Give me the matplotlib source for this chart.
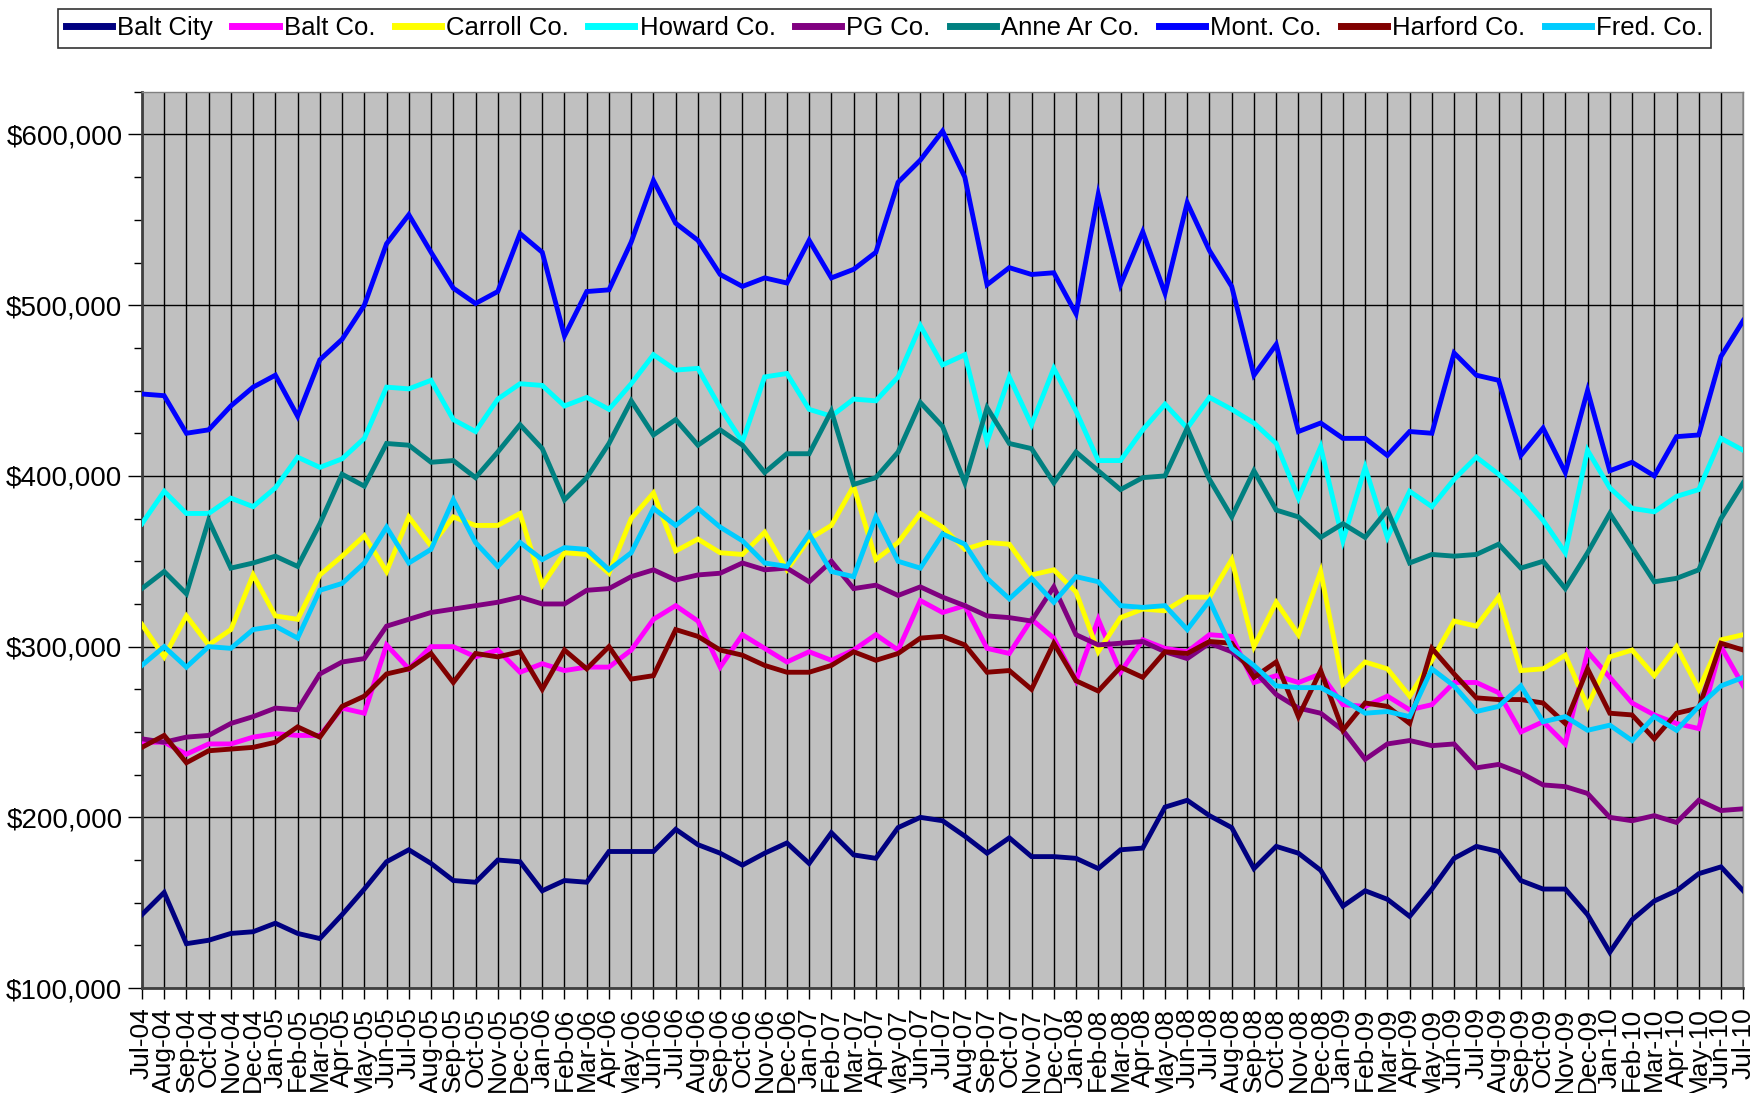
import matplotlib
matplotlib.use("Agg")
import matplotlib.pyplot as plt
from matplotlib.ticker import FuncFormatter, MultipleLocator
import numpy as np

plt.rcParams['font.family'] = ['Liberation Sans', 'DejaVu Sans']

months = []
for y in range(4, 11):
    for m in ["Jan", "Feb", "Mar", "Apr", "May", "Jun", "Jul", "Aug", "Sep", "Oct", "Nov", "Dec"]:
        months.append(f"{m}-{y:02d}")
months = months[6:6 + 73]  # Jul-04 .. Jul-10

balt_city = [143,156,126,128,132,133,138,132,129,143,158,174,181,
             173,163,162,175,174,157,163,162,180,180,180,
             193,184,179,172,179,185,173,191,178,176,194,200,
             198,189,179,188,177,177,176,170,181,182,206,210,201,194,170,183,179,169,
             148,157,152,142,158,176,183,180,163,158,158,143,121,140,151,157,167,171,157]
balt_co = [244,244,237,243,243,247,249,248,248,264,261,301,287,
           300,300,294,298,285,290,286,288,288,298,316,
           324,315,288,307,299,291,297,292,298,307,298,327,
           320,324,299,296,316,305,280,316,285,304,299,297,307,306,279,283,279,284,
           266,265,271,263,266,279,279,273,250,256,243,297,282,267,260,255,252,300,277]
carroll = [313,294,318,301,310,342,318,316,342,353,365,344,376,
           359,376,371,371,378,336,355,354,343,375,390,
           356,363,355,354,367,345,363,371,394,351,361,378,
           370,357,361,360,342,345,332,297,317,322,321,329,329,351,300,326,307,344,
           278,291,287,271,292,315,312,329,286,287,295,265,294,298,283,300,275,304,307]
howard = [372,391,378,378,387,382,393,411,405,410,422,452,451,
          456,433,426,445,454,453,441,446,439,454,471,
          462,463,440,420,458,460,439,435,445,444,458,488,
          465,471,420,458,430,463,438,409,409,427,442,428,446,439,431,419,387,417,
          362,405,364,391,382,398,411,401,389,374,355,415,393,381,379,388,392,422,415]
pg = [246,244,247,248,255,259,264,263,284,291,293,312,316,
      320,322,324,326,329,325,325,333,334,341,345,
      339,342,343,349,345,346,338,350,334,336,330,335,
      329,324,318,317,315,335,307,301,302,303,297,293,302,297,286,272,264,261,
      251,234,243,245,242,243,229,231,226,219,218,214,200,198,201,197,210,204,205]
anne = [334,344,331,374,346,349,353,347,372,401,394,419,418,
        408,409,399,414,430,416,386,399,419,444,424,
        433,418,427,418,402,413,413,438,395,399,414,443,
        429,396,440,419,416,396,414,403,392,399,400,428,398,376,403,380,376,364,
        372,364,380,349,354,353,354,360,346,350,334,355,378,358,338,340,345,375,396]
mont = [448,447,425,427,441,452,459,435,468,480,500,536,553,
        531,510,501,508,542,531,482,508,509,537,573,
        548,538,518,511,516,513,538,516,521,531,572,585,
        602,575,512,522,518,519,495,565,512,543,507,560,532,511,459,477,426,431,
        422,422,412,426,425,472,459,456,412,428,402,450,403,408,400,423,424,470,491]
harford = [241,248,232,239,240,241,244,253,247,265,271,284,287,
           296,279,296,294,297,275,298,287,300,281,283,
           310,306,298,295,289,285,285,289,297,292,296,305,
           306,301,285,286,275,302,280,274,288,282,297,296,303,302,282,291,259,286,
           251,267,265,255,299,284,270,269,269,267,255,287,261,260,246,261,264,302,298]
fred = [289,300,288,300,299,310,312,305,333,337,349,370,349,
        357,386,361,347,361,351,358,357,345,355,381,
        371,381,370,362,349,347,366,344,341,376,350,346,
        366,360,340,328,340,326,341,338,324,323,324,310,327,299,289,277,276,276,
        269,261,262,259,287,277,262,265,277,256,259,251,254,245,259,251,265,277,282]

series_names = ["Balt City", "Balt Co.", "Carroll Co.", "Howard Co.", "PG Co.",
                "Anne Ar Co.", "Mont. Co.", "Harford Co.", "Fred. Co."]
series_values = [balt_city, balt_co, carroll, howard, pg, anne, mont, harford, fred]
series_colors = ["#000080", "#FF00FF", "#FFFF00", "#00FFFF", "#800080",
                 "#008080", "#0000FF", "#800000", "#00CCFF"]

fig = plt.figure(figsize=(17.52, 10.93), dpi=100)
ax = fig.add_axes([0.081, 0.096, 0.914, 0.820])
ax.set_facecolor("#C0C0C0")

x = np.arange(len(months))
for name, vals, col in zip(series_names, series_values, series_colors):
    ax.plot(x, np.array(vals) * 1000, color=col, lw=3.5, label=name, zorder=3,
            solid_joinstyle="miter")

ax.set_xlim(0, len(months) - 1)
ax.set_ylim(100000, 625000)
ax.yaxis.set_major_locator(MultipleLocator(100000))
ax.yaxis.set_minor_locator(MultipleLocator(25000))
ax.yaxis.set_major_formatter(FuncFormatter(lambda v, p: f"${v:,.0f}"))
ax.set_xticks(x)
ax.set_xticklabels(months, rotation=90, fontsize=19)
ax.tick_params(axis="y", which="major", labelsize=20, length=10, width=1, color="black", pad=4)
ax.tick_params(axis="y", which="minor", length=6, width=1, color="black")
ax.tick_params(axis="x", length=8, width=1, color="black", pad=6)

ax.grid(True, axis="both", which="major", color="black", lw=1.0, zorder=1)
for sp in ["left", "bottom"]:
    ax.spines[sp].set_color("#404040")
    ax.spines[sp].set_linewidth(2)
for sp in ["top", "right"]:
    ax.spines[sp].set_color("#808080")
    ax.spines[sp].set_linewidth(1)

leg = fig.legend(loc="center", bbox_to_anchor=(0.505, 0.974), ncol=9,
                 fontsize=18.5, frameon=True, fancybox=False, edgecolor="black",
                 handlelength=1.8, handletextpad=0.2, columnspacing=0.75,
                 borderpad=0.3, borderaxespad=0)
leg.get_frame().set_linewidth(1.2)
for h in leg.get_lines():
    h.set_linewidth(5)

fig.savefig("out.png", dpi=100)
